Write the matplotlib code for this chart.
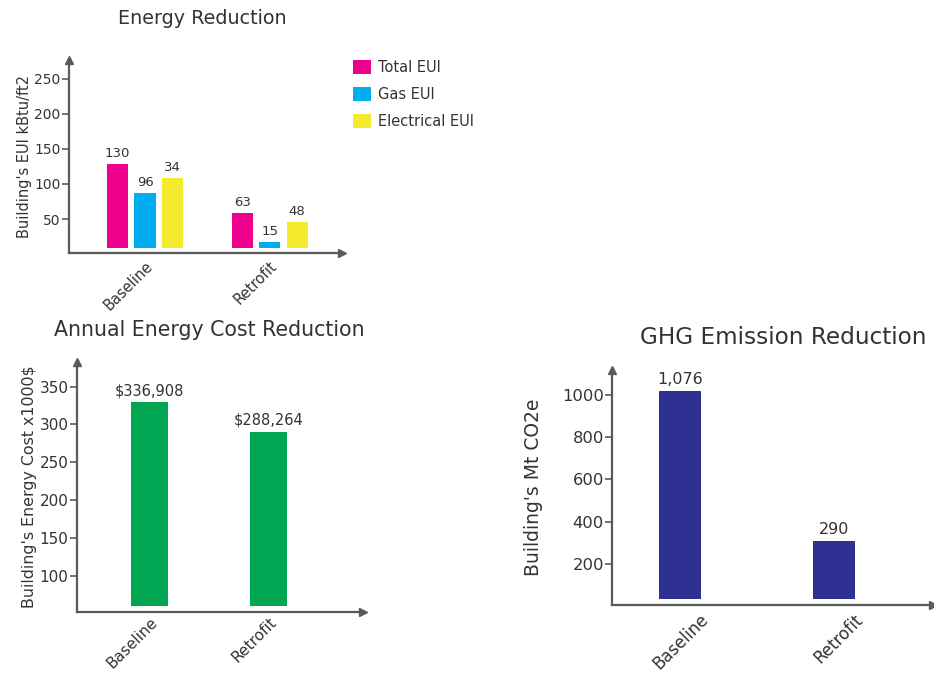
import matplotlib

matplotlib.use("Agg")
import matplotlib.pyplot as plt
import matplotlib.transforms as mtransforms
import numpy as np

# --- data ---
categories = ["Baseline", "Retrofit"]

eui_series = ["Total EUI", "Gas EUI", "Electrical EUI"]
eui_total = [128.6, 58.6]
eui_gas = [87.0, 17.0]
eui_elec = [108.6, 45.7]
eui_labels = [["130", "63"], ["96", "15"], ["34", "48"]]
eui_ticks = [50, 100, 150, 200, 250]

cost_values = [329.4, 290.0]
cost_labels = ["$336,908", "$288,264"]
cost_ticks = [100, 150, 200, 250, 300, 350]

ghg_values = [1016, 308]
ghg_labels = ["1,076", "290"]
ghg_ticks = [200, 400, 600, 800, 1000]

# --- style ---
TEXT = "#333333"
AXIS = "#5a5a5a"
EUI_COLORS = ["#EC008C", "#00AEEF", "#F4EB2F"]
COST_COLOR = "#00A651"
GHG_COLOR = "#2E3192"

plt.rcParams.update({
    "font.family": ["DejaVu Sans"],
    "text.color": TEXT,
    "axes.labelcolor": TEXT,
    "xtick.color": TEXT,
    "ytick.color": TEXT,
})


def style_axes(ax, ticks, tick_size, xlab_size, xshift=0, xpad=4):
    for s in ("top", "right"):
        ax.spines[s].set_visible(False)
    for s in ("left", "bottom"):
        ax.spines[s].set_color(AXIS)
        ax.spines[s].set_linewidth(1.6)
    # arrow heads at the axis ends
    ax.plot(1, 0, ">", color=AXIS, ms=6, transform=ax.transAxes, clip_on=False)
    ax.plot(0, 1, "^", color=AXIS, ms=6, transform=ax.transAxes, clip_on=False)
    ax.set_yticks(ticks)
    ax.tick_params(axis="y", length=5, width=1.2, color=AXIS, labelsize=tick_size, pad=1)
    ax.tick_params(axis="x", length=0, labelsize=xlab_size, pad=xpad)
    ax.set_xticks(range(len(categories)))
    ax.set_xticklabels(categories, rotation=45, ha="right", rotation_mode="anchor")
    if xshift:
        shift = mtransforms.ScaledTranslation(xshift / 72, 0, ax.figure.dpi_scale_trans)
        for lab in ax.get_xticklabels():
            lab.set_transform(lab.get_transform() + shift)


fig = plt.figure(figsize=(9.34, 6.73), dpi=100)

# ---- Energy Reduction ----
ax1 = fig.add_axes([0.0739, 0.624, 0.2923, 0.2868])
x = np.arange(len(categories))
w, off, base = 0.17, 0.22, 8
for i, (vals, col, name) in enumerate(zip([eui_total, eui_gas, eui_elec], EUI_COLORS, eui_series)):
    vals = np.array(vals)
    pos = x + (i - 1) * off
    ax1.bar(pos, vals - base, bottom=base, width=w, color=col, label=name)
    for px, v, lab in zip(pos, vals, eui_labels[i]):
        ax1.annotate(lab, (px, v), xytext=(0, 3), textcoords="offset points",
                     ha="center", va="bottom", fontsize=9.5)
ax1.set_xlim(-0.61, 1.58)
ax1.set_ylim(1.4, 277)
style_axes(ax1, eui_ticks, 10, 10.5)
ax1.set_ylabel("Building's EUI kBtu/ft2", fontsize=10.5, labelpad=2)
fig.text(0.217, 0.972, "Energy Reduction", ha="center", va="center", fontsize=13.8)
fig.legend(loc="upper left", bbox_to_anchor=(0.364, 0.93), frameon=False,
           fontsize=10.5, handlelength=1.25, handleheight=1.1, labelspacing=0.8,
           handletextpad=0.45)

# ---- Annual Energy Cost Reduction ----
ax2 = fig.add_axes([0.0824, 0.0911, 0.306, 0.3715])
base2 = 60.3
ax2.bar(x, np.array(cost_values) - base2, bottom=base2, width=0.31, color=COST_COLOR)
for px, v, lab in zip(x, cost_values, cost_labels):
    ax2.annotate(lab, (px, v), xytext=(0, 3), textcoords="offset points",
                 ha="center", va="bottom", fontsize=10.5)
ax2.set_xlim(-0.61, 1.79)
ax2.set_ylim(52.4, 383)
style_axes(ax2, cost_ticks, 11, 11, xpad=2)
ax2.set_ylabel("Building's Energy Cost x1000$", fontsize=11.4, labelpad=2)
fig.text(0.224, 0.509, "Annual Energy Cost Reduction", ha="center", va="center", fontsize=14.8)

# ---- GHG Emission Reduction ----
ax3 = fig.add_axes([0.6556, 0.101, 0.343, 0.349])
base3 = 35
ax3.bar(x, np.array(ghg_values) - base3, bottom=base3, width=0.276, color=GHG_COLOR)
for px, v, lab in zip(x, ghg_values, ghg_labels):
    ax3.annotate(lab, (px, v), xytext=(0, 3), textcoords="offset points",
                 ha="center", va="bottom", fontsize=11.5)
ax3.set_xlim(-0.44, 1.64)
ax3.set_ylim(7, 1115)
style_axes(ax3, ghg_ticks, 11.8, 12, xshift=14)
ax3.set_ylabel("Building's Mt CO2e", fontsize=13.5, labelpad=14)
fig.text(0.839, 0.499, "GHG Emission Reduction", ha="center", va="center", fontsize=16.7)

fig.savefig("out.png", dpi=100)
